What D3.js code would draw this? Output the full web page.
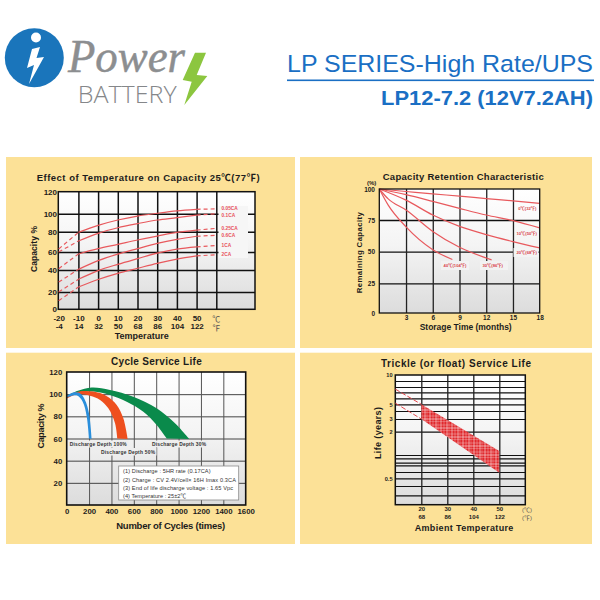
<!DOCTYPE html>
<html><head><meta charset="utf-8">
<script src="https://cdn.jsdelivr.net/npm/d3@7"></script>
<style>html,body{margin:0;padding:0;background:#fff}svg{display:block}</style>
</head><body><svg id="c" width="600" height="600"></svg>
<script>
// ---- Data -------------------------------------------------------------
const tempC = [-20,-10,0,10,20,30,40,50,60];
const tempF = [-4,14,32,50,68,86,104,122];
const capTicks = [0,20,40,60,80,100,120];
const capLabels = ["0.05CA","0.1CA","0.25CA","0.6CA","1CA","2CA"];
const cap005 = [63,79.3,87,93,97.4,100.4,102.6,104,104.4];
const cap01  = [60,70.8,78.4,84.4,89,93,95.6,98.5,100];
const cap025 = [41.5,57.8,63.3,67.5,71.8,75.7,79.3,81.8,83.7];
const cap06  = [29,40.7,50.4,57.7,63.3,68.5,72.5,75.5,76.5];
const cap1   = [20,31.5,39.4,46.3,52.6,58.7,62.8,65,66.4];
const cap2   = [10,24.5,31.4,37,41.9,47.4,52,55.6,57];

const months = [0,3,6,9,12,15,18];
const retTicks = [0,25,50,75,100];
const ret0  = [[0,100],[3,98],[6,96],[9,94.3],[12,92.3],[15,90.5],[18,88.4]];
const ret10 = [[0,100],[3,95.4],[6,90],[9,84.4],[12,79],[15,74.5],[18,68.8]];
const ret20 = [[0,100],[3,91],[6,79],[9,70],[12,63.5],[15,58],[18,53]];
const ret30 = [[0,100],[1,92],[3,83],[6,66],[9,53.5],[12,45],[12.6,43.5]];
const ret40 = [[0,100],[1,87],[3,69.6],[6,51.6],[8.2,43.8]];
const retNames = ["0℃(32℉)","10℃(50℉)","20℃(68℉)","30℃(86℉)","40℃(104℉)"];

const cycleTicks = [0,200,400,600,800,1000,1200,1400,1600];
const cycleCap = [20,40,60,80,100,120];
const green30Outer = [[0,98.4],[100,103],[223,106],[387,103.8],[595,97.7],[804,87.2],[968,73.7],[1095,59.6]];
const green30Inner = [[894,60],[804,72.2],[685,84.2],[536,93.2],[387,99.3],[238,102.3],[89,101.4],[0,97]];
const red50Outer = [[0,98.4],[119,102.6],[238,102.3],[355,98.4],[447,90.3],[506,78.2],[545,59.6]];
const red50Inner = [[452,60],[432,73.7],[372,87.2],[298,94.8],[208,98.6],[89,100],[0,96]];
const blue100Outer = [[0,98.4],[59,101.4],[119,100.8],[163,94.8],[199,82.8],[223,59.6]];
const blue100Inner = [[199,60],[179,79.7],[143,93.2],[89,99],[0,97]];
const cycleNotes = ["(1) Discharge : 5HR rate (0.17CA)","(2) Charge : CV 2.4V/cell× 16H Imax 0.3CA","(3) End of life discharge voltage : 1.65 Vpc","(4) Temperature : 25±2℃"];

const lifeLines = [10,9,8,7,6,5,4,3,2,1,0.9,0.8,0.7,0.6,0.5,0.4,0.3,0.2];
const lifeLabelled = [10,5,3,2,0.5];
const ambientC = [20,30,40,50];
const ambientF = [68,86,104,122];
const bandTemp = [20,50];
const bandUpper = [5,1.17];
const bandLower = [3,0.59];
const dashTemp = [10,20];
const dashUpper = [7.6,5];
const dashLower = [5.2,3];

// ---- Helpers ----------------------------------------------------------
const svg = d3.select("#c");
const SANS = "'Liberation Sans','Noto Sans CJK SC',sans-serif";
const defs = svg.append("defs");
const gr = defs.append("linearGradient").attr("id","plotbg").attr("x1",0).attr("x2",0).attr("y1",0).attr("y2",1);
gr.append("stop").attr("offset",0).attr("stop-color","#ffffff");
gr.append("stop").attr("offset",.45).attr("stop-color","#f4f4f4");
gr.append("stop").attr("offset",1).attr("stop-color","#dcdcdc");
const pat = defs.append("pattern").attr("id","hatch").attr("patternUnits","userSpaceOnUse").attr("width",11).attr("height",9);
pat.append("rect").attr("width",11).attr("height",9).attr("fill","#e0282c");
[[1,0,1,9,.7],[4,0,4,9,.4],[7,0,7,9,.7],[9,0,9,9,.3],[0,2,11,2,.4],[0,5,11,5,.7],[0,7.5,11,7.5,.3]].forEach(l=>
  pat.append("line").attr("x1",l[0]).attr("y1",l[1]).attr("x2",l[2]).attr("y2",l[3]).attr("stroke","#fff").attr("stroke-opacity",.75).attr("stroke-width",l[4]));

function txt(x,y,s,o={}){
  const t = svg.append("text").attr("x",x).attr("y",y).text(s)
    .attr("font-family",o.font||SANS).attr("font-size",o.size||8)
    .attr("font-weight",o.weight||"bold").attr("fill",o.fill||"#1c1c1c")
    .attr("text-anchor",o.anchor||"middle");
  if(o.style) t.attr("font-style",o.style);
  if(o.len) t.attr("textLength",o.len).attr("lengthAdjust",o.adjust||"spacing");
  if(o.rot) t.attr("transform",`rotate(${o.rot} ${x} ${y})`);
  return t;
}
function panel(x0,y0,x1,y1){
  svg.append("rect").attr("x",x0).attr("y",y0).attr("width",x1-x0).attr("height",y1-y0).attr("fill","#fce197");
}
function plotBg(x0,y0,x1,y1){
  svg.append("rect").attr("x",x0).attr("y",y0).attr("width",x1-x0).attr("height",y1-y0).attr("fill","url(#plotbg)");
}
function frame(x0,y0,x1,y1,w){
  svg.append("rect").attr("x",x0).attr("y",y0).attr("width",x1-x0).attr("height",y1-y0).attr("fill","none").attr("stroke","#111").attr("stroke-width",w);
}
function vGrid(x,vals,y1,h,color,w){
  const g = svg.append("g").attr("transform",`translate(0,${y1})`)
    .call(d3.axisBottom(x).tickValues(vals).tickSize(-h).tickFormat(""));
  g.select(".domain").remove();
  g.selectAll("line").attr("stroke",color).attr("stroke-width",w);
}
function hGrid(y,vals,x0,w0,color,w){
  const g = svg.append("g").attr("transform",`translate(${x0},0)`)
    .call(d3.axisRight(y).tickValues(vals).tickSize(w0).tickFormat(""));
  g.select(".domain").remove();
  g.selectAll("line").attr("stroke",color).attr("stroke-width",w);
}
function styleAxis(g,size){
  g.select(".domain").remove();
  g.selectAll("line").remove();
  g.attr("font-family",SANS).attr("font-size",size).attr("font-weight","bold");
  g.selectAll("text").attr("fill","#1c1c1c");
}
function xLabels(x,vals,y,size,fmt){
  const a = d3.axisBottom(x).tickValues(vals).tickSize(0).tickPadding(0);
  a.tickFormat(fmt||(d=>d));
  svg.append("g").attr("transform",`translate(0,${y})`).call(a).call(g=>styleAxis(g,size));
}
function yLabels(y,vals,x0,size,fmt){
  const a = d3.axisLeft(y).tickValues(vals).tickSize(0).tickPadding(0);
  a.tickFormat(fmt||(d=>d));
  svg.append("g").attr("transform",`translate(${x0},0)`).call(a).call(g=>styleAxis(g,size));
}
function patch(x0,y0,x1,y1,c){
  svg.append("rect").attr("x",x0).attr("y",y0).attr("width",x1-x0).attr("height",y1-y0).attr("fill",c);
}

// ---- Header -----------------------------------------------------------
svg.append("circle").attr("cx",34.3).attr("cy",57.7).attr("r",29.5).attr("fill","#1a75bb");
svg.append("circle").attr("cx",36).attr("cy",37.5).attr("r",5).attr("fill","#fff");
svg.append("path").attr("fill","#fff").attr("d","M32,49 L40,47 L36.5,58 L44,57 L29,84 L34,65 L27,68 Z");
txt(68,71.7,"Power",{font:"'Liberation Serif',serif",style:"italic",weight:"normal",size:46,fill:"#8c8e90",anchor:"start",len:117,adjust:"spacingAndGlyphs"}).attr("stroke","#8c8e90").attr("stroke-width",.5);
txt(77.7,102.7,"BATTERY",{font:"'Open Sans',sans-serif",weight:"300",size:24.5,fill:"#85878a",anchor:"start",len:99,adjust:"spacingAndGlyphs"});
svg.append("path").attr("fill","#8cc63f").attr("d","M195,52.7 L206,52.7 L196.7,75 L207.3,76 L184.3,105 L191.7,81.7 L182.7,80 Z");
txt(287,71.7,"LP SERIES-High Rate/UPS",{size:24.5,weight:"normal",fill:"#1a6fc4",anchor:"start",len:306,adjust:"spacingAndGlyphs"});
svg.append("rect").attr("x",287).attr("y",79.5).attr("width",307).attr("height",1.6).attr("fill","#1a6fc4");
txt(381,105,"LP12-7.2 (12V7.2AH)",{size:20.5,fill:"#1a6fc4",anchor:"start",len:212,adjust:"spacingAndGlyphs"});

// ---- Panel 1: temperature / capacity ----------------------------------
panel(6,157,295,348);
{
  const x0=58.3,x1=255,y0=191.7,y1=309.3;
  const x = d3.scaleLinear().domain([-20,60]).range([58.7,216.3]);
  const y = d3.scaleLinear().domain(capTicks).range([309.3,292,270,252,231.7,213.7,191.7]);
  plotBg(x0,y0,x1,y1);
  hGrid(y,capTicks.slice(1,-1),x0,x1-x0,"#111",1.5);
  vGrid(x,tempC.slice(1),y1,y1-y0,"#111",1.5);
  patch(218.5,206,248,258,"#f6f6f6");
  frame(x0,y0,x1,y1,1.5);
  const line = d3.line().x(d=>x(d[0])).y(d=>y(d[1])).curve(d3.curveMonotoneX);
  [cap005,cap01,cap025,cap06,cap1,cap2].forEach(s=>{
    const pts = tempC.map((t,i)=>[t,s[i]]);
    const path=(a,b,dash)=>svg.append("path").attr("d",line(pts.slice(a,b))).attr("fill","none")
      .attr("stroke","#e8595d").attr("stroke-width",1.2).attr("stroke-dasharray",dash?"4 3":null);
    path(0,2,true); path(1,8,false); path(7,9,true);
  });
  const labY=[208.6,215,228,235.5,245.5,254];
  capLabels.forEach((l,i)=>txt(221.5,labY[i]+1.8,l,{size:4.8,fill:"#e8505a",anchor:"start"}));
  yLabels(y,capTicks,57,8);
  xLabels(x,tempC.slice(0,-1),315,8);
  xLabels(x,tempC.slice(0,-1),323.5,8,(d,i)=>tempF[i]);
  txt(x(60),322,"℃",{size:8,weight:"normal",fill:"#555"});
  txt(x(60),330.5,"℉",{size:8,weight:"normal",fill:"#555"});
  txt(141.7,338.5,"Temperature",{size:9,len:54});
  txt(36.7,180.7,"Effect of Temperature on Capacity  25℃(77℉)",{size:9.5,anchor:"start",len:223});
  txt(37,249,"Capacity %",{size:8.5,rot:-90,len:46});
}

// ---- Panel 2: retention -----------------------------------------------
panel(300,157,592,348);
{
  const x0=379.3,x1=539.7,y0=189,y1=313;
  const x = d3.scaleLinear().domain([0,18]).range([x0,x1]);
  const y = d3.scaleLinear().domain(retTicks).range([313,283.3,251.7,220,189]);
  plotBg(x0,y0,x1,y1);
  hGrid(y,retTicks.slice(1,-1),x0,x1-x0,"#111",1.3);
  vGrid(x,months.slice(1,-1),y1,y1-y0,"#222",1.3);
  patch(513.5,248,538.5,257,"#f4f4f4");
  patch(441,261,469,270,"#f2f2f2"); patch(480,261,508,270,"#f2f2f2");
  const line = d3.line().x(d=>x(d[0])).y(d=>y(d[1])).curve(d3.curveMonotoneX);
  [ret0,ret10,ret20,ret30,ret40].forEach(s=>svg.append("path").attr("d",line(s)).attr("fill","none").attr("stroke","#e8595d").attr("stroke-width",1.2));
  frame(x0,y0,x1,y1,1.3);
  const lp=[[527.3,210],[526.7,235.2],[526.7,253.5],[492.7,266.8],[455,266.8]];
  retNames.forEach((n,i)=>txt(lp[i][0],lp[i][1],n,{size:4.2,fill:"#d9434a"}));
  yLabels(y,retTicks,375,6.5);
  xLabels(x,months.slice(1),315,6.5);
  txt(371.7,185,"(%)",{size:6});
  txt(382.7,180,"Capacity Retention Characteristic",{size:9.5,anchor:"start",len:161});
  txt(465.7,329.5,"Storage Time (months)",{size:8.5,len:92});
  txt(362,252.7,"Remaining Capacity",{size:7.8,rot:-90,len:81});
}

// ---- Panel 3: cycle life ----------------------------------------------
panel(6,352.7,295,544);
{
  const x0=66.7,x1=245.7,y0=372,y1=505;
  const x = d3.scaleLinear().domain([0,1600]).range([x0,x1]);
  const y = d3.scaleLinear().domain([0,120]).range([y1,y0]);
  plotBg(x0,y0,x1,y1);
  hGrid(y,cycleCap.slice(0,-1),x0,x1-x0,"#444",1);
  vGrid(x,cycleTicks.slice(1,-1),y1,y1-y0,"#555",1);
  const line = d3.line().x(d=>x(d[0])).y(d=>y(d[1])).curve(d3.curveCatmullRom);
  const band=(o,i,c)=>svg.append("path").attr("d",line(o)+"L"+line(i).slice(1)+"Z").attr("fill",c);
  band(green30Outer,green30Inner,"#0a8a4b");
  band(red50Outer,red50Inner,"#ee4f1e");
  band(blue100Outer,blue100Inner,"#2a8fdc");
  patch(68,440.5,128.5,447.5,"#eeeeee");
  patch(100,448,156.5,455.5,"#eeeeee");
  patch(150.5,440.5,207.5,447.5,"#eeeeee");
  frame(x0,y0,x1,y1,1.6);
  txt(69.7,446.2,"Discharge Depth 100%",{size:4.9,fill:"#333",anchor:"start",len:57});
  txt(101,453.8,"Discharge Depth 50%",{size:4.9,fill:"#333",anchor:"start",len:54});
  txt(152,446.2,"Discharge Depth 30%",{size:4.9,fill:"#333",anchor:"start",len:54});
  svg.append("rect").attr("x",118.7).attr("y",466).attr("width",120).attr("height",34).attr("fill","#fff").attr("stroke","#8a8a8a").attr("stroke-width",.8);
  const noteY=[472.8,481.8,490,498];
  const noteL=[87.5,113,110,63];
  cycleNotes.forEach((n,i)=>txt(123,noteY[i],n,{size:5.6,weight:"normal",fill:"#333",anchor:"start",len:noteL[i]}));
  yLabels(y,cycleCap,62.3,7.8);
  xLabels(x,cycleTicks,508.5,7.8);
  txt(111,365.3,"Cycle Service Life",{size:10,anchor:"start",len:90.7});
  txt(170.7,528.5,"Number of Cycles (times)",{size:9.5,len:109});
  txt(44,426,"Capacity %",{size:9,rot:-90,len:45});
}

// ---- Panel 4: float life ----------------------------------------------
panel(300,352.7,592,544);
{
  const x0=395.3,x1=525.3,y0=375,y1=504.7;
  const x = d3.scaleLinear().domain([10,60]).range([395.3,525.3]);
  const y = d3.scaleLinear().domain(lifeLines)
    .range([375,381,387,392.3,398.3,404.3,411,419,431.7,455,458.3,462.7,465.3,472,478.3,486,495.3,504.7]);
  plotBg(x0,y0,x1,y1);
  hGrid(y,lifeLines.slice(1,-1),x0,x1-x0,"#111",1.2);
  vGrid(x,ambientC,y1,y1-y0,"#222",1.3);
  frame(x0,y0,x1,y1,1.5);
  const poly = bandTemp.map((t,i)=>[t,bandUpper[i]]).concat(bandTemp.map((t,i)=>[t,bandLower[i]]).reverse());
  svg.append("path").attr("d",d3.line().x(d=>x(d[0])).y(d=>y(d[1]))(poly)+"Z").attr("fill","url(#hatch)");
  const dl = d3.line().x(d=>x(d[0])).y(d=>y(d[1]));
  [dashUpper,dashLower].forEach(s=>svg.append("path").attr("d",dl(dashTemp.map((t,i)=>[t,s[i]]))).attr("fill","none")
    .attr("stroke","#e2474b").attr("stroke-width",1).attr("stroke-dasharray","5 2"));
  yLabels(y,lifeLabelled,392.5,5.6);
  xLabels(x,ambientC,506.5,6);
  xLabels(x,ambientC,515,6,(d,i)=>ambientF[i]);
  txt(527,511.5,"(℃)",{size:6,weight:"normal",fill:"#555"});
  txt(527,520,"(℉)",{size:6,weight:"normal",fill:"#555"});
  txt(381,366.7,"Trickle (or float) Service Life",{size:10,anchor:"start",len:150});
  txt(464,531,"Ambient Temperature",{size:9,len:98.7});
  txt(380.5,433,"Life (years)",{size:9,rot:-90,len:52});
}
</script></body></html>
